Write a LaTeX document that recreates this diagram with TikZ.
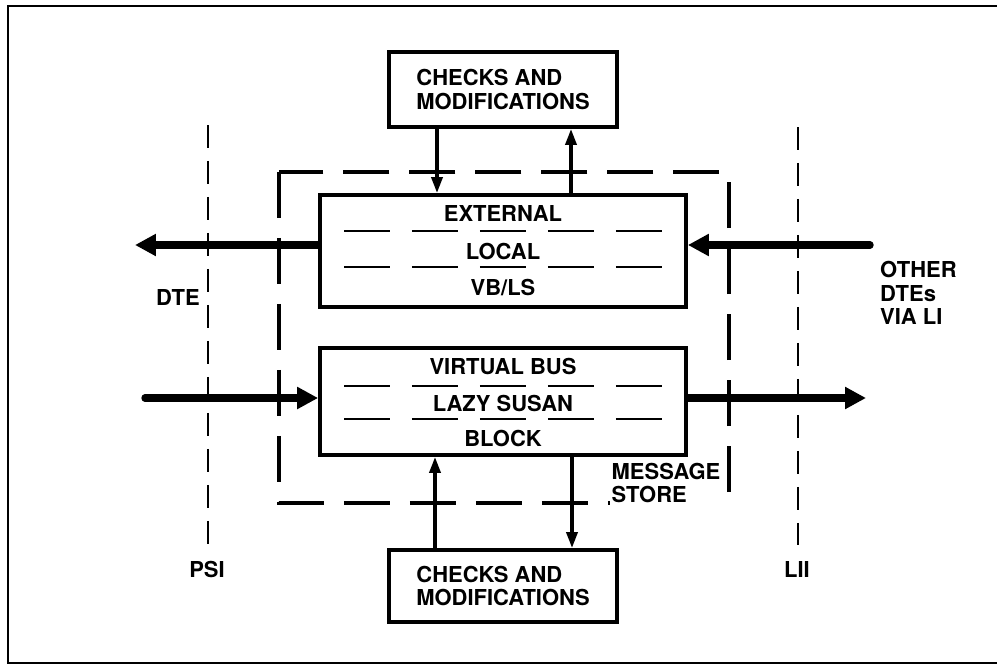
\documentclass[tikz,border=0pt]{standalone}
\usepackage{fontspec}
\setmainfont{TeX Gyre Heros}
\usetikzlibrary{arrows.meta}

\begin{document}
\begin{tikzpicture}[x=0.02cm, y=-0.02cm,
    every node/.style={font=\fontsize{12.5}{13.2}\selectfont\bfseries},
    chkbox/.style={draw, line width=2.2pt, minimum width=4.56cm, minimum height=1.46cm, align=left, inner sep=0pt},
    storebox/.style={draw, line width=2.2pt, minimum width=7.32cm, inner sep=0pt},
    sepline/.style={line width=1.7pt, dash pattern=on 0.92cm off 0.44cm},
    iface/.style={line width=1.5pt, dash pattern=on 0.46cm off 0.26cm},
    storeline/.style={line width=2.6pt, dash pattern=on 0.92cm off 0.4cm},
    bus/.style={line width=4.2pt, line cap=round, -{Triangle[length=0.42cm, width=0.42cm]}},
    conn/.style={line width=2pt, -{Triangle[length=0.32cm, width=0.22cm]}}]
    \useasboundingbox (0,0) rectangle (997,666);
    % frame
    \draw[line width=1.6pt] (997,6) -- (8,6) -- (8,663) -- (997,663);
    % interfaces
    \draw[iface] (208,125) -- (208,545);
    \draw[iface] (798,127) -- (798,545);
    \node (psi) at (207,569) {PSI};
    \node (lii) at (797,569) {LII};
    \node (dte) at (178,297) {DTE};
    \node[align=left, anchor=west] (others) at (874,293) {OTHER\\DTEs\\VIA LI};
    % message store
    \draw[storeline] (279,172) rectangle (729,503);
    \node[fill=white, align=left, inner sep=1pt] (mstore) at (666,483) {MESSAGE\\STORE};
    % upper store block
    \node[storebox, minimum height=2.24cm] (ubox) at (503,251) {};
    \draw[sepline] (344,231) -- (663,231);
    \draw[sepline] (344,267) -- (663,267);
    \node (ext) at (503,213) {EXTERNAL};
    \node (loc) at (503,251) {LOCAL};
    \node (vbls) at (503,288) {VB/LS};
    % lower store block
    \node[storebox, minimum height=2.14cm] (lbox) at (503,401.5) {};
    \draw[sepline] (344,386) -- (663,386);
    \draw[sepline] (344,419) -- (663,419);
    \node (vbus) at (503,366) {VIRTUAL BUS};
    \node (lazy) at (503,403) {LAZY SUSAN};
    \node (blk) at (503,438) {BLOCK};
    % checks
    \node[chkbox, minimum height=1.5cm] (tchk) at (503,89.5) {CHECKS AND\\MODIFICATIONS};
    \node[chkbox, minimum height=1.44cm] (bchk) at (503,586) {CHECKS AND\\MODIFICATIONS};
    % buses
    \coordinate (wout) at (135,245);
    \coordinate (ein) at (870,245);
    \coordinate (win) at (145,398);
    \coordinate (eout) at (866,398);
    \draw[bus] (ubox.west |- wout) -- (wout);
    \draw[bus] (ein) -- (ubox.east |- ein);
    \draw[bus] (win) -- (lbox.west |- win);
    \draw[bus] (lbox.east |- eout) -- (eout);
    % checks connections
    \coordinate (tdown) at (437,0);
    \coordinate (tup) at (571,0);
    \coordinate (bup) at (435,0);
    \coordinate (bdown) at (572,0);
    \draw[conn] (tdown |- tchk.south) -- (tdown |- ubox.north);
    \draw[conn] (tup |- ubox.north) -- (tup |- tchk.south);
    \draw[conn] (bup |- bchk.north) -- (bup |- lbox.south);
    \draw[conn] (bdown |- lbox.south) -- (bdown |- bchk.north);
\end{tikzpicture}
\end{document}
